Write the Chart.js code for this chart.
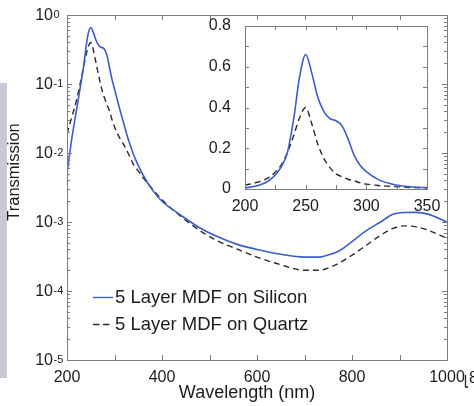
<!DOCTYPE html>
<html><head><meta charset="utf-8">
<script src="https://cdn.jsdelivr.net/npm/chart.js@4/dist/chart.umd.min.js"></script>
<style>
html,body{margin:0;padding:0;background:#fff;}
#wrap{position:relative;width:474px;height:406px;overflow:hidden;background:#fff;}
#main{position:absolute;left:0;top:0;}
#inset{position:absolute;left:190px;top:0;}
#bar{position:absolute;left:0;top:83px;width:7px;height:295px;background:#c6cad6;}
</style></head><body>
<div id="wrap">
<div id="bar"></div>
<canvas id="main" width="474" height="406"></canvas>
<canvas id="inset" width="260" height="225"></canvas>
</div>
<script>
// ---- data (wavelength in nm, transmission) ----
const wavelengths = [200,210,220,230,235,240,245,250,255,260,265,270,275,280,285,290,295,300,310,320,330,340,350,360,380,400,440,480,520,560,600,650,700,730,760,775,800,830,860,885,910,935,960,1000];
const silicon = [0.005,0.016,0.042,0.11,0.18,0.34,0.55,0.66,0.57,0.45,0.38,0.345,0.335,0.31,0.245,0.165,0.115,0.085,0.046,0.026,0.015,0.0095,0.0066,0.0048,0.0029,0.0020,0.00125,0.00082,0.0006,0.00047,0.0004,0.00034,0.00031,0.00031,0.00035,0.00039,0.00052,0.00075,0.001,0.00128,0.00137,0.00138,0.0013,0.001];
const quartz = [0.019,0.033,0.058,0.12,0.18,0.26,0.35,0.40,0.32,0.22,0.15,0.105,0.075,0.06,0.048,0.04,0.03,0.024,0.017,0.013,0.0095,0.0068,0.0055,0.0044,0.003,0.0021,0.0012,0.00075,0.00052,0.0004,0.00031,0.00024,0.0002,0.0002,0.00023,0.00026,0.00033,0.00046,0.00064,0.0008,0.00088,0.00085,0.00076,0.00058];
const seriesLabels = ['5 Layer MDF on Silicon','5 Layer MDF on Quartz'];
const mainXTicks = [200,400,600,800,1000];
const mainYExponents = [0,-1,-2,-3,-4,-5];
const insetXTicks = [200,250,300,350];
const insetYTicks = [0,0.2,0.4,0.6,0.8];
const xTitle = 'Wavelength (nm)';
const yTitle = 'Transmission';

const BLUE = '#3c5dc8', DARK = '#2a2a2a', FRAME = '#7c7c7c', TXT = '#1c1c1c';
const FONT = '"Liberation Sans", Arial, Helvetica, sans-serif';

function pts(vals, maxX){
  const out=[];
  wavelengths.forEach((w,i)=>{ if(w<=maxX) out.push({x:w,y:vals[i]}); });
  return out;
}
function makeDatasets(maxX){
  return [
    {label:seriesLabels[0], data:pts(silicon,maxX), borderColor:BLUE, borderWidth:1.6, pointRadius:0, cubicInterpolationMode:'monotone', fill:false},
    {label:seriesLabels[1], data:pts(quartz,maxX), borderColor:DARK, borderWidth:1.4, borderDash:[6,4], pointRadius:0, cubicInterpolationMode:'monotone', fill:false}
  ];
}
function hiddenScale(extra){
  return Object.assign({ticks:{display:false}, grid:{display:false, drawTicks:false}, border:{display:false}, title:{display:false}}, extra);
}

const mainDeco = {
  id:'mainDeco',
  afterDatasetsDraw(chart){
    const ctx=chart.ctx, a=chart.chartArea, xs=chart.scales.x, ys=chart.scales.y;
    ctx.save();
    ctx.strokeStyle=FRAME; ctx.lineWidth=1;
    ctx.strokeRect(Math.round(a.left)+0.5, Math.round(a.top)+0.5, Math.round(a.right-a.left), Math.round(a.bottom-a.top));
    ctx.beginPath();
    for(let v=200; v<=1000; v+=100){
      const px=Math.round(xs.getPixelForValue(v))+0.5;
      ctx.moveTo(px,a.bottom); ctx.lineTo(px,a.bottom-5);
      ctx.moveTo(px,a.top); ctx.lineTo(px,a.top+5);
    }
    for(let d=-5; d<=0; d++){
      const py=Math.round(ys.getPixelForValue(Math.pow(10,d)))+0.5;
      ctx.moveTo(a.left,py); ctx.lineTo(a.left+5,py);
      ctx.moveTo(a.right,py); ctx.lineTo(a.right-5,py);
      if(d<0){
        for(let m=2;m<=9;m++){
          const pm=Math.round(ys.getPixelForValue(m*Math.pow(10,d)))+0.5;
          ctx.moveTo(a.left,pm); ctx.lineTo(a.left+3,pm);
          ctx.moveTo(a.right,pm); ctx.lineTo(a.right-3,pm);
        }
      }
    }
    ctx.stroke();
    // x tick labels
    ctx.fillStyle=TXT;
    ctx.font='16px '+FONT; ctx.textAlign='center'; ctx.textBaseline='middle';
    mainXTicks.forEach(v=>ctx.fillText(String(v), xs.getPixelForValue(v), 378));
    // y tick labels 10^n
    mainYExponents.forEach(e=>{
      const py=ys.getPixelForValue(Math.pow(10,e));
      ctx.font='16px '+FONT; ctx.textAlign='right'; ctx.textBaseline='middle';
      ctx.fillText('10', 53, py+1);
      ctx.font='11px '+FONT; ctx.textAlign='left'; ctx.textBaseline='top';
      ctx.fillText(e===0?'0':'-'+String(-e), 53.5, py-6);
    });
    // titles
    ctx.font='18px '+FONT; ctx.textAlign='center'; ctx.textBaseline='middle';
    ctx.fillText(xTitle, 247, 393);
    ctx.save(); ctx.translate(14,172); ctx.rotate(-Math.PI/2);
    ctx.font='16.5px '+FONT; ctx.fillText(yTitle, 0, 0); ctx.restore();
    // legend
    const ds=chart.data.datasets;
    const rows=[297,324];
    ds.forEach((d,i)=>{
      ctx.save();
      ctx.strokeStyle=d.borderColor; ctx.lineWidth=1.4;
      ctx.setLineDash(d.borderDash? [6.5,3.5] : []);
      ctx.beginPath(); ctx.moveTo(93,rows[i]+0.5); ctx.lineTo(i===0?113:111,rows[i]+0.5); ctx.stroke();
      ctx.restore();
      ctx.font='18.5px '+FONT; ctx.textAlign='left'; ctx.textBaseline='middle'; ctx.fillStyle=TXT;
      ctx.fillText(d.label, 115, rows[i]+1);
    });
    // page artifact at right edge
    ctx.strokeStyle='#222'; ctx.lineWidth=1.3;
    ctx.beginPath(); ctx.moveTo(465.5,375); ctx.lineTo(465.5,387); ctx.lineTo(468,387); ctx.stroke();
    ctx.font='16px '+FONT; ctx.textAlign='left'; ctx.textBaseline='middle';
    ctx.fillText('8', 469, 379);
    ctx.restore();
  }
};

const insetDeco = {
  id:'insetDeco',
  afterDatasetsDraw(chart){
    const ctx=chart.ctx, a=chart.chartArea, xs=chart.scales.x, ys=chart.scales.y;
    ctx.save();
    ctx.strokeStyle=FRAME; ctx.lineWidth=1;
    ctx.strokeRect(Math.round(a.left)+0.5, Math.round(a.top)+0.5, Math.round(a.right-a.left), Math.round(a.bottom-a.top));
    ctx.beginPath();
    for(let v=200; v<=350; v+=25){
      const px=Math.round(xs.getPixelForValue(v))+0.5;
      ctx.moveTo(px,a.bottom); ctx.lineTo(px,a.bottom-4);
      ctx.moveTo(px,a.top); ctx.lineTo(px,a.top+4);
    }
    for(let k=0;k<=8;k++){
      const py=Math.round(ys.getPixelForValue(k/10))+0.5;
      ctx.moveTo(a.left,py); ctx.lineTo(a.left+4,py);
      ctx.moveTo(a.right,py); ctx.lineTo(a.right-4,py);
    }
    ctx.stroke();
    ctx.fillStyle=TXT; ctx.font='16px '+FONT;
    ctx.textAlign='center'; ctx.textBaseline='middle';
    insetXTicks.forEach(v=>ctx.fillText(String(v), xs.getPixelForValue(v), 207));
    ctx.textAlign='right';
    insetYTicks.forEach(v=>ctx.fillText(v===0?'0':v.toFixed(1), 41, ys.getPixelForValue(v)));
    ctx.restore();
  }
};

new Chart(document.getElementById('main'), {
  type:'line',
  data:{datasets:makeDatasets(1000)},
  options:{
    responsive:false, animation:false, devicePixelRatio:1,
    layout:{padding:{left:67,right:27,top:15,bottom:46}},
    plugins:{legend:{display:false}, tooltip:{enabled:false}, title:{display:false}},
    scales:{
      x:hiddenScale({type:'linear', min:200, max:1000, afterFit(s){s.height=0;}}),
      y:hiddenScale({type:'logarithmic', min:1e-5, max:1, afterFit(s){s.width=0;}})
    }
  },
  plugins:[mainDeco]
});

new Chart(document.getElementById('inset'), {
  type:'line',
  data:{datasets:makeDatasets(350)},
  options:{
    responsive:false, animation:false, devicePixelRatio:1,
    layout:{padding:{left:55,right:23,top:26,bottom:36}},
    plugins:{legend:{display:false}, tooltip:{enabled:false}, title:{display:false}},
    scales:{
      x:hiddenScale({type:'linear', min:200, max:350, afterFit(s){s.height=0;}}),
      y:hiddenScale({type:'linear', min:0, max:0.8, afterFit(s){s.width=0;}})
    }
  },
  plugins:[insetDeco]
});
</script>
</body></html>
